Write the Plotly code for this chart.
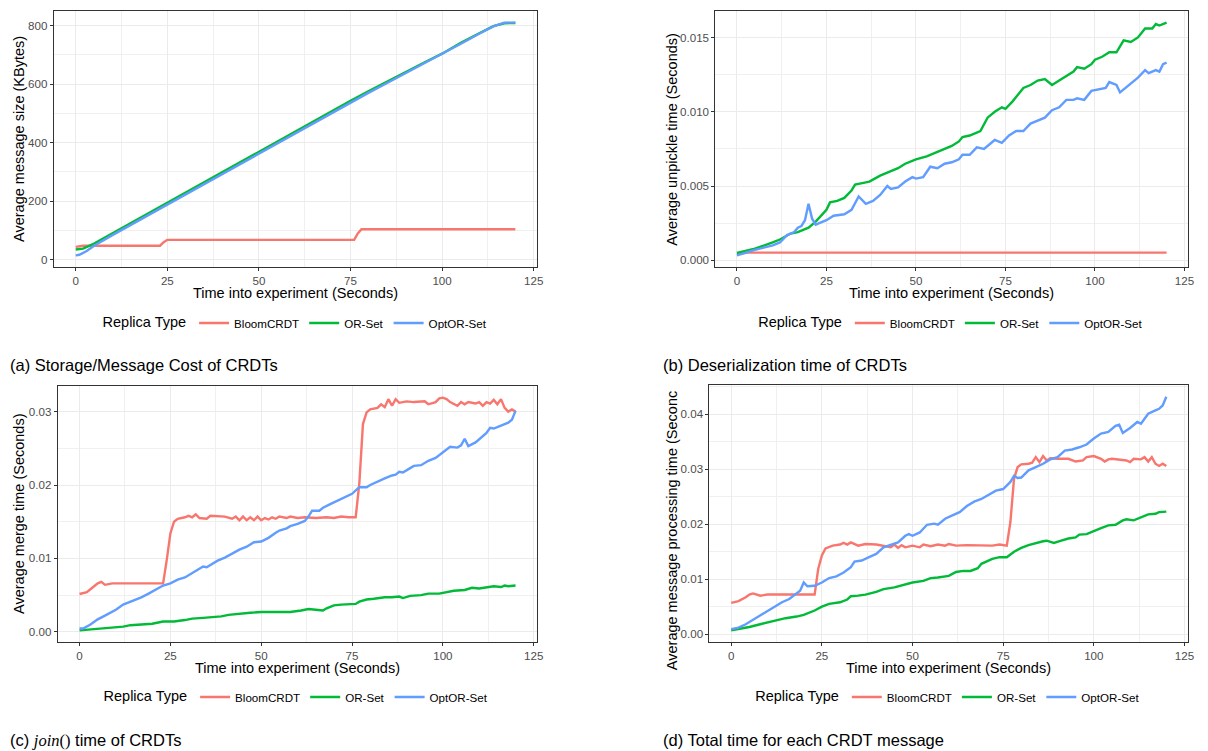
import plotly.graph_objects as go

# The page body has an 8px default margin, so the figure is drawn 8px in from the
# top-left corner of the 1208x751 window.
OFF = 8
W, H = 1208 - OFF, 751 - OFF
FONT = "Liberation Sans, Arial, sans-serif"
RED, GREEN, BLUE = "#F8766D", "#00BA38", "#619CFF"
SERIES = ["BloomCRDT", "OR-Set", "OptOR-Set"]

# ---------------- (a) Average message size (KBytes) ----------------
a_bloom_t = [0, 2, 23, 24, 25, 76, 77, 78, 120]
a_bloom_v = [44, 48, 48, 60, 68, 68, 90, 104, 104]
a_or_t = [0, 2, 5, 10, 15, 20, 25, 30, 35, 40, 45, 50, 55, 60, 65, 70, 75, 80, 85, 90, 95, 100, 105, 110, 114, 117, 120]
a_or_v = [35, 38, 55, 90, 125, 160, 193, 228, 263, 298, 333, 368, 403, 438, 472, 508, 543, 576, 609, 641, 673, 704, 740, 773, 798, 808, 809]
a_opt_t = [0, 1, 3, 5, 10, 15, 20, 25, 30, 35, 40, 45, 50, 55, 60, 65, 70, 75, 80, 85, 90, 95, 100, 105, 110, 114, 117, 120]
a_opt_v = [15, 17, 30, 48, 84, 119, 154, 188, 223, 258, 293, 328, 362, 397, 432, 467, 502, 537, 571, 604, 637, 670, 702, 737, 771, 797, 810, 810]

# ---------------- (b) Average unpickle time (Seconds) ----------------
b_bloom_t = [0, 3, 10, 20, 30, 40, 50, 60, 70, 76, 78, 80, 90, 100, 110, 118, 120]
b_bloom_v = [0.00042, 0.00052, 0.00052, 0.00052, 0.00051, 0.00051, 0.00051, 0.00052, 0.00052, 0.00053, 0.00055, 0.00052, 0.00051, 0.00052, 0.00052, 0.00054, 0.00052]
b_or_t = [0, 5, 10, 12, 15, 17, 20, 22, 25, 26, 28, 30, 32, 33, 35, 37, 40, 43, 45, 47, 50, 53, 55, 57, 60, 62, 63, 65, 68, 70,
          72, 74, 75, 77, 80, 82, 84, 86, 88, 90, 92, 94, 95, 97, 99, 100, 102, 104, 106, 108, 110, 112, 114, 116, 117, 118, 120]
b_or_v = [0.00049, 0.00078, 0.0012, 0.0014, 0.0018, 0.0019, 0.0022, 0.0026, 0.0034, 0.0039, 0.0040, 0.0042, 0.0047, 0.0051, 0.0052, 0.0053, 0.0057, 0.0060, 0.0062, 0.0065,
          0.0068, 0.0070, 0.0072, 0.0074, 0.0077, 0.0080, 0.0083, 0.0084, 0.0087, 0.0096, 0.0100, 0.0103, 0.0102, 0.0107, 0.0116, 0.0118, 0.0121, 0.0122, 0.0118, 0.0121,
          0.0124, 0.0127, 0.0130, 0.0129, 0.0132, 0.0135, 0.0137, 0.0140, 0.0140, 0.0148, 0.0147, 0.0150, 0.0156, 0.0156, 0.0159, 0.0158, 0.0160]
b_opt_t = [0, 5, 10, 12, 14, 16, 17, 18, 19, 20, 21, 22, 23, 25, 27, 30, 32, 34, 36, 38, 40, 42, 43, 45, 47, 49, 50, 52, 54, 56, 58, 60, 62, 63, 65, 67, 69,
           71, 72, 74, 76, 78, 80, 82, 84, 86, 88, 90, 92, 94, 95, 97, 99, 101, 103, 104, 106, 107, 109, 111, 112, 114, 115, 117, 118, 119, 120]
b_opt_v = [0.00033, 0.0007, 0.0010, 0.0012, 0.0017, 0.0019, 0.0022, 0.0023, 0.0027, 0.0038, 0.0028, 0.0024, 0.0025, 0.0027, 0.0030, 0.0031, 0.0034, 0.0043, 0.0038,
           0.0040, 0.0044, 0.0050, 0.0048, 0.0049, 0.0053, 0.0056, 0.0055, 0.0056, 0.0063, 0.0062, 0.0065, 0.0066, 0.0068, 0.0071, 0.0071, 0.0076, 0.0075, 0.0079,
           0.0081, 0.0079, 0.0084, 0.0087, 0.0087, 0.0092, 0.0094, 0.0096, 0.0101, 0.0103, 0.0108, 0.0108, 0.0109, 0.0108, 0.0114, 0.0115, 0.0116, 0.0120, 0.0118,
           0.0113, 0.0117, 0.0121, 0.0123, 0.0128, 0.0126, 0.0128, 0.0127, 0.0132, 0.0133]

# ---------------- (c) Average merge time (Seconds) ----------------
c_bloom_t = [0, 2, 4, 5, 6, 7, 9, 12, 15, 17, 20, 23, 24, 25, 26, 27, 29, 30, 31, 32, 33, 35, 36, 38, 40, 42, 43, 44, 45, 46, 47, 48, 49, 50, 51, 52, 53,
             54, 55, 57, 58, 60, 62, 65, 68, 70, 72, 74, 76, 77, 78, 79, 80, 82, 83, 84, 85, 86, 87, 88, 90, 92, 95, 96, 98, 99, 100, 101, 102, 104, 105,
             106, 107, 109, 110, 111, 112, 113, 114, 115, 116, 117, 118, 119, 120]
c_bloom_v = [0.00515, 0.0054, 0.0062, 0.0066, 0.0068, 0.0064, 0.0066, 0.0066, 0.0067, 0.0066, 0.0066, 0.0066, 0.0098, 0.0134, 0.0150, 0.0154, 0.0156, 0.0158,
             0.0156, 0.0160, 0.0155, 0.0154, 0.0158, 0.0157, 0.0157, 0.0154, 0.0157, 0.0152, 0.0157, 0.0152, 0.0156, 0.0152, 0.0157, 0.0152, 0.0155, 0.0153,
             0.0156, 0.0154, 0.0157, 0.0155, 0.0157, 0.0155, 0.0156, 0.0155, 0.0156, 0.0155, 0.0157, 0.0156, 0.0156, 0.0202, 0.0283, 0.0299, 0.0303, 0.0305,
             0.0310, 0.0306, 0.0317, 0.0308, 0.0317, 0.0312, 0.0314, 0.0313, 0.0314, 0.0310, 0.0313, 0.0318, 0.0319, 0.0317, 0.0313, 0.0308, 0.0313, 0.0310,
             0.0313, 0.0311, 0.0313, 0.0308, 0.0313, 0.0311, 0.0316, 0.0310, 0.0317, 0.0305, 0.0300, 0.0303, 0.0300]
c_or_t = [0, 3, 5, 8, 10, 12, 14, 17, 20, 23, 26, 29, 31, 34, 37, 39, 41, 44, 47, 50, 53, 56, 58, 61, 63, 65, 67, 68, 70, 72, 74, 76, 77, 79, 81, 84,
          86, 88, 89, 91, 94, 96, 99, 101, 103, 106, 108, 110, 112, 114, 116, 117, 118, 120]
c_or_v = [0.0002, 0.0003, 0.0004, 0.0005, 0.0006, 0.0007, 0.0009, 0.0010, 0.0011, 0.0014, 0.0014, 0.0016, 0.0018, 0.0019, 0.0020, 0.0021, 0.0023, 0.0025,
          0.0026, 0.0027, 0.0027, 0.0028, 0.0027, 0.0029, 0.0031, 0.0030, 0.0029, 0.0032, 0.0036, 0.0037, 0.0037, 0.0038, 0.0041, 0.0044, 0.0045, 0.0047,
          0.0047, 0.0048, 0.0046, 0.0049, 0.0050, 0.0052, 0.0052, 0.0054, 0.0056, 0.0057, 0.0060, 0.0059, 0.0060, 0.0062, 0.0061, 0.0063, 0.0062, 0.0063]
c_opt_t = [0, 1, 3, 5, 7, 10, 12, 13, 15, 17, 19, 21, 23, 25, 27, 29, 30, 32, 34, 35, 37, 38, 40, 42, 44, 46, 48, 50, 52, 54, 55, 57, 58, 60, 62, 63,
           64, 66, 67, 69, 71, 73, 75, 77, 78, 79, 80, 82, 84, 86, 87, 88, 89, 91, 92, 94, 96, 98, 100, 102, 104, 105, 106, 107, 109, 111, 112, 113, 114,
           116, 118, 119, 120]
c_opt_v = [0.00045, 0.00045, 0.0010, 0.0017, 0.0022, 0.0030, 0.0037, 0.0039, 0.0042, 0.0047, 0.0052, 0.0057, 0.0063, 0.0066, 0.0071, 0.0074, 0.0077,
           0.0082, 0.0089, 0.0088, 0.0094, 0.0097, 0.0101, 0.0107, 0.0112, 0.0116, 0.0122, 0.0123, 0.0128, 0.0135, 0.0138, 0.0141, 0.0144, 0.0147, 0.0151,
           0.0157, 0.0165, 0.0165, 0.0169, 0.0174, 0.0179, 0.0183, 0.0188, 0.0197, 0.0197, 0.0197, 0.0200, 0.0205, 0.0209, 0.0213, 0.0214, 0.0218, 0.0217,
           0.0223, 0.0226, 0.0227, 0.0233, 0.0237, 0.0245, 0.0252, 0.0251, 0.0254, 0.0263, 0.0253, 0.0258, 0.0267, 0.0271, 0.0278, 0.0277, 0.0281, 0.0285,
           0.0289, 0.0301]

# ---------------- (d) Average message processing time (Seconds) ----------------
d_bloom_t = [0, 2, 4, 5, 6, 7, 8, 10, 15, 20, 23, 24, 25, 26, 28, 30, 31, 32, 33, 35, 37, 40, 42, 44, 45, 46, 47, 48, 50, 52, 53, 55, 57, 59, 60, 62,
             65, 68, 70, 72, 74, 76, 77, 78, 79, 80, 82, 83, 84, 85, 86, 87, 88, 90, 93, 95, 97, 98, 100, 101, 102, 103, 104, 105, 107, 109, 110, 111,
             113, 114, 115, 116, 117, 118, 119, 120]
d_bloom_v = [0.0057, 0.0060, 0.0067, 0.0072, 0.0074, 0.0072, 0.0070, 0.0072, 0.0072, 0.0072, 0.0072, 0.0119, 0.0143, 0.0156, 0.0161, 0.0163, 0.0166,
             0.0163, 0.0167, 0.0161, 0.0164, 0.0163, 0.0161, 0.0158, 0.0163, 0.0157, 0.0162, 0.0158, 0.0161, 0.0158, 0.0163, 0.0160, 0.0163, 0.0161, 0.0164,
             0.0161, 0.0162, 0.0161, 0.0161, 0.0161, 0.0163, 0.0161, 0.0204, 0.0283, 0.0304, 0.0309, 0.0310, 0.0312, 0.0322, 0.0313, 0.0324, 0.0316, 0.0320,
             0.0319, 0.0319, 0.0314, 0.0316, 0.0322, 0.0324, 0.0322, 0.0319, 0.0314, 0.0318, 0.0319, 0.0318, 0.0316, 0.0313, 0.0319, 0.0318, 0.0322, 0.0314,
             0.0322, 0.0310, 0.0306, 0.0310, 0.0306]
d_or_t = [0, 2, 5, 8, 10, 12, 15, 18, 20, 23, 25, 27, 30, 32, 33, 35, 37, 40, 42, 45, 47, 50, 53, 55, 57, 60, 62, 64, 66, 68, 69, 71, 72, 74, 76, 78,
          80, 82, 84, 86, 87, 89, 91, 93, 95, 96, 98, 100, 102, 104, 106, 108, 109, 111, 113, 115, 117, 118, 120]
d_or_v = [0.0007, 0.0009, 0.0013, 0.0018, 0.0021, 0.0024, 0.0029, 0.0032, 0.0035, 0.0043, 0.0050, 0.0055, 0.0058, 0.0063, 0.0069, 0.0070, 0.0072, 0.0077,
          0.0082, 0.0085, 0.0089, 0.0094, 0.0097, 0.0102, 0.0103, 0.0106, 0.0113, 0.0115, 0.0115, 0.0120, 0.0128, 0.0135, 0.0137, 0.0140, 0.0140, 0.0150,
          0.0157, 0.0162, 0.0166, 0.0169, 0.0170, 0.0166, 0.0170, 0.0174, 0.0176, 0.0181, 0.0182, 0.0188, 0.0193, 0.0198, 0.0199, 0.0207, 0.0209, 0.0207,
          0.0213, 0.0218, 0.0219, 0.0222, 0.0223]
d_opt_t = [0, 2, 4, 6, 8, 10, 12, 14, 16, 18, 19, 20, 21, 23, 25, 27, 29, 31, 33, 34, 36, 38, 40, 42, 44, 46, 48, 49, 50, 52, 54, 56, 57, 59, 61, 63,
           65, 67, 69, 71, 73, 75, 77, 78, 79, 80, 82, 84, 86, 88, 90, 92, 94, 96, 98, 100, 102, 104, 106, 107, 108, 110, 112, 113, 115, 117, 118, 119, 120]
d_opt_v = [0.0009, 0.0012, 0.0018, 0.0026, 0.0033, 0.0041, 0.0050, 0.0058, 0.0064, 0.0073, 0.0079, 0.0094, 0.0087, 0.0088, 0.0094, 0.0102, 0.0105,
           0.0112, 0.0122, 0.0132, 0.0134, 0.0140, 0.0146, 0.0158, 0.0163, 0.0167, 0.0179, 0.0182, 0.0179, 0.0185, 0.0199, 0.0201, 0.0199, 0.0210, 0.0216,
           0.0222, 0.0233, 0.0241, 0.0246, 0.0254, 0.0261, 0.0264, 0.0277, 0.0288, 0.0284, 0.0285, 0.0298, 0.0304, 0.0310, 0.0318, 0.0322, 0.0334, 0.0336,
           0.0340, 0.0345, 0.0356, 0.0365, 0.0368, 0.0379, 0.0381, 0.0366, 0.0375, 0.0386, 0.0383, 0.0401, 0.0407, 0.0410, 0.0416, 0.0432]

x_ticks = [0, 25, 50, 75, 100, 125]
x_title = "Time into experiment (Seconds)"

panels = [
    dict(n="", l=54, r=540, t=11, b=267, yr=[-24.75, 849.75], dt=200, fmt="d",
         data=[(a_bloom_t, a_bloom_v), (a_or_t, a_or_v), (a_opt_t, a_opt_v)],
         yt="Average message size (KBytes)", ytx=19, yty=139, ytanchor="middle",
         leg=(298, 323), cap="(a) Storage/Message Cost of CRDTs", capx=8, capy=365),
    dict(n="2", l=719, r=1194, t=11, b=267, yr=[-0.00045, 0.01678], dt=0.005, fmt=".3f",
         data=[(b_bloom_t, b_bloom_v), (b_or_t, b_or_v), (b_opt_t, b_opt_v)],
         yt="Average unpickle time (Seconds)", ytx=675, yty=139, ytanchor="middle",
         leg=(957, 323), cap="(b) Deserialization time of CRDTs", capx=664, capy=365),
    dict(n="3", l=58, r=540, t=386, b=642, yr=[-0.00139, 0.03349], dt=0.01, fmt=".2f",
         data=[(c_bloom_t, c_bloom_v), (c_or_t, c_or_v), (c_opt_t, c_opt_v)],
         yt="Average merge time (Seconds)", ytx=19, yty=514, ytanchor="middle",
         leg=(299, 697),
         cap="(c) <span style=\"font-family:'Liberation Serif', serif\"><i>join</i>()</span> time of CRDTs",
         capx=8, capy=740),
    dict(n="4", l=713, r=1194, t=385, b=642, yr=[-0.00143, 0.04533], dt=0.01, fmt=".2f",
         data=[(d_bloom_t, d_bloom_v), (d_or_t, d_or_v), (d_opt_t, d_opt_v)],
         yt="Average message processing time (Seconc", ytx=675, yty=672, ytanchor="bottom",
         leg=(954, 697), cap="(d) Total time for each CRDT message", capx=664, capy=740),
]


def px_x(v):
    return (v - OFF) / W


def px_y(v):
    return 1 - (v - OFF) / H


fig = go.Figure()
layout = dict(width=W, height=H, margin=dict(l=0, r=0, t=0, b=0),
              paper_bgcolor="white", plot_bgcolor="white",
              font=dict(family=FONT, color="black"), showlegend=True)
annotations = []

common = dict(showline=True, mirror=True, linecolor="#333333", linewidth=1.1,
              ticks="outside", ticklen=3, tickwidth=1, tickcolor="#333333",
              tickfont=dict(family=FONT, size=11.6, color="#4D4D4D"),
              showgrid=True, gridcolor="#EBEBEB", gridwidth=1, zeroline=False)

for p in panels:
    n = p["n"]
    xa, ya = "x" + n, "y" + n
    legname = "legend" + n
    for (t, v), name, col in zip(p["data"], SERIES, [RED, GREEN, BLUE]):
        fig.add_trace(go.Scatter(x=t, y=v, mode="lines", name=name,
                                 line=dict(color=col, width=2.4),
                                 xaxis=xa, yaxis=ya, legend=legname))
    layout["xaxis" + n] = dict(common, domain=[px_x(p["l"]), px_x(p["r"])], anchor=ya,
                               range=[-6, 126], tickvals=x_ticks,
                               minor=dict(showgrid=True, gridcolor="#F0F0F0", gridwidth=0.6,
                                          dtick=12.5, tick0=0, ticks=""))
    layout["yaxis" + n] = dict(common, domain=[px_y(p["b"]), px_y(p["t"])], anchor=xa,
                               range=p["yr"], dtick=p["dt"], tick0=0, tickformat=p["fmt"],
                               minor=dict(showgrid=True, gridcolor="#F0F0F0", gridwidth=0.6,
                                          dtick=p["dt"] / 2, tick0=0, ticks=""))
    layout[legname] = dict(orientation="h", x=px_x(p["leg"][0]), y=px_y(p["leg"][1]),
                           xanchor="center", yanchor="middle",
                           title=dict(text="Replica Type", side="left",
                                      font=dict(family=FONT, size=14.5, color="black")),
                           font=dict(family=FONT, size=11.6, color="black"),
                           bgcolor="rgba(0,0,0,0)", itemwidth=30)
    # x-axis title
    annotations.append(dict(text=x_title, xref="paper", yref="paper",
                            x=px_x((p["l"] + p["r"]) / 2), y=px_y(p["b"] + 26),
                            xanchor="center", yanchor="middle", showarrow=False,
                            font=dict(family=FONT, size=14.5, color="black")))
    # y-axis title
    annotations.append(dict(text=p["yt"], xref="paper", yref="paper", textangle=-90,
                            x=px_x(p["ytx"]), y=px_y(p["yty"]),
                            xanchor="center", yanchor=p["ytanchor"], showarrow=False,
                            font=dict(family=FONT, size=14.5, color="black")))
    # caption
    annotations.append(dict(text=p["cap"], xref="paper", yref="paper",
                            x=px_x(p["capx"]), y=px_y(p["capy"]),
                            xanchor="left", yanchor="middle", showarrow=False,
                            font=dict(family=FONT, size=16.5, color="black")))

layout["annotations"] = annotations
fig.update_layout(**layout)
fig.write_html("out.html")
